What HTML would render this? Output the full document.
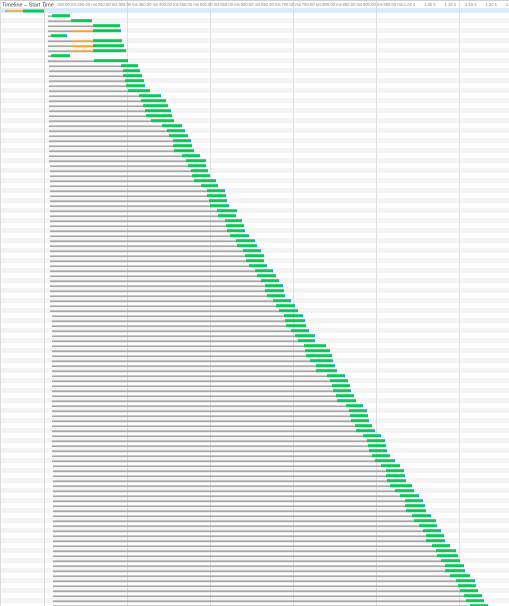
<!DOCTYPE html>
<html><head><meta charset="utf-8">
<style>
html,body{margin:0;padding:0;background:#fff;width:509px;height:606px;overflow:hidden;}
svg{display:block;font-family:"Liberation Sans",sans-serif;}
</style></head>
<body>
<svg id="chart" width="509" height="606" viewBox="0 0 509 606" xmlns="http://www.w3.org/2000/svg">
  <rect x="0" y="0" width="509" height="606" fill="#fff"/>
  <g id="rows"></g>
  <g id="grid"></g>
  <rect x="0" y="0" width="509" height="1" fill="#d0d0d0"/>
  <text x="2" y="6.5" font-size="5.5" fill="#444">Timeline – Start Time</text>
  <g id="ticks"></g>
  <g id="bars"></g>
</svg>
<script>
// ---- data (ms) ----
const requestStart = [16,54,98,98,14,98,98,98,14,100,154,158,158,162,164,168,190,194,198,202,204,214,236,246,250,258,258,260,276,284,288,294,296,300,314,326,326,330,332,346,348,362,364,366,372,384,386,398,402,404,410,422,426,434,442,442,446,458,464,470,480,482,484,494,502,508,520,522,524,532,544,544,566,572,576,578,584,586,604,610,612,614,622,624,638,646,648,650,656,662,674,684,684,686,692,702,712,722,722,724,736,740,750,758,764,764,776,784,786,794,802,802,812,824,828,832,840,844,852];
const downloadDur = [36,42,54,56,32,58,62,66,38,68,34,34,38,38,38,44,44,50,50,52,52,46,40,36,38,36,38,40,36,40,36,34,36,44,34,36,38,36,38,40,36,34,36,36,38,38,40,36,38,36,36,36,38,36,36,38,36,36,38,38,38,40,40,36,40,34,44,50,52,46,38,42,36,36,36,36,36,38,34,36,36,36,34,38,36,36,36,36,36,40,38,36,38,38,44,38,38,36,40,40,38,44,36,36,36,38,36,40,42,38,38,40,40,38,36,36,36,36,36];
const queuedStart = [8,8,8,8,8,8,8,8,8,8,10,10,10,10,10,10,10,10,10,10,10,10,10,10,10,10,10,10,10,10,12,12,12,12,12,12,12,12,12,12,12,12,12,12,12,12,12,12,12,12,12,12,12,12,12,12,12,12,12,12,16,16,16,16,16,16,16,16,16,16,16,16,16,16,16,16,16,16,16,16,16,16,16,16,16,16,16,16,16,16,18,18,18,18,18,18,18,18,18,18,18,18,18,18,18,18,18,18,18,18,18,18,18,18,18,18,18,18,18];
const blockedRows = [4,6,7,8];
const blockedStart = [54,54,54,54];
const blockedEnd = [98,98,98,98];
const headerQueued = -78, headerBlocked = -74, headerStart = -42, headerEnd = -2;
const tickLabels = ["150.00 ms","200.00 ms","250.00 ms","300.00 ms","350.00 ms","400.00 ms","450.00 ms","500.00 ms","550.00 ms","600.00 ms","650.00 ms","700.00 ms","750.00 ms","800.00 ms","850.00 ms","900.00 ms","950.00 ms","1.00 s","1.05 s","1.10 s","1.15 s","1.20 s","1.2"];
const gridTimes = [0,166,332,498,664,830];

// ---- axes ----
const X0 = 44, PX_PER_MS = 0.5, ROW_Y0 = 8, ROW_H = 5;
function x(t){ return X0 + t * PX_PER_MS; }
function rowY(k){ return ROW_Y0 + k * ROW_H; }
const NS = "http://www.w3.org/2000/svg";
function mk(parent, tag, attrs){ const e=document.createElementNS(NS,tag); for(const a in attrs) e.setAttribute(a,attrs[a]); parent.appendChild(e); return e; }

const rowsG = document.getElementById('rows');
const gridG = document.getElementById('grid');
const ticksG = document.getElementById('ticks');
const barsG = document.getElementById('bars');
const N = requestStart.length;

// header row highlight
let hr = mk(rowsG,'rect',{x:0,y:rowY(0),width:509,height:ROW_H,fill:'#dcebfb'});


for (let k=1;k<=N;k++){
  const r = mk(rowsG,'rect',{x:0,y:rowY(k),width:509,height:ROW_H,fill:(k%2===0)?'#f4f4f4':'#ffffff'});
  
  
}
const lb = mk(gridG,'rect',{x:0,y:0,width:1,height:606,fill:'#dcdcdc'});


gridTimes.forEach((t,i)=>{
  const l = mk(gridG,'rect',{x:x(t),y:0,width:1,height:606,fill:i===0?'#d6d6d6':'#dedede'});
  
  
});
tickLabels.forEach((s,i)=>{
  const t = mk(ticksG,'text',{x:57 + i*20.4,y:6,'font-size':4.2,fill:'#888'});
  t.textContent = s;
  
  
});

function bar(k, t0, t1, color, h, dy, name){
  const w = Math.max(0, x(t1) - x(t0));
  const e = mk(barsG,'rect',{x:x(t0),y:rowY(k)+dy,width:w,height:h,fill:color});
  
  
  return e;
}
// header bar
bar(0, headerQueued, headerBlocked, '#a8a8a8', 1.6, 2.2, 'header-queued-bar');
bar(0, headerBlocked, headerStart, '#ff9f1a', 1.6, 2.2, 'header-blocked-bar');
bar(0, headerStart, headerEnd, '#0cc85a', 3, 1.5, 'header-download-bar');
bar(0, headerEnd, headerEnd+2, '#1e9bff', 3, 1.5, 'header-receive-tip');

for (let i=0;i<N;i++){
  const k = i+1;
  bar(k, queuedStart[i], requestStart[i], '#a6a6a6', 1.7, 2.4, 'queued-bar-' + k);
  const end = requestStart[i] + downloadDur[i];
  bar(k, requestStart[i], end - 2, '#0cc85a', 3, 1.2, 'download-bar-' + k);
  bar(k, end - 2, end, '#1e9bff', 3, 1.2, 'receive-tip-' + k);
}
blockedRows.forEach((k,j)=>{
  bar(k, blockedStart[j], blockedEnd[j], '#ff9f1a', 1.7, 2.4, 'blocked-bar-' + k);
});
</script>
</body></html>
